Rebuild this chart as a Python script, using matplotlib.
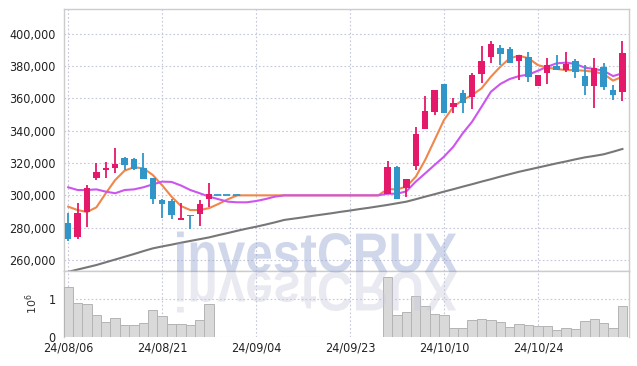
import matplotlib
matplotlib.use("Agg")
import matplotlib.pyplot as plt
import numpy as np
from matplotlib.font_manager import FontProperties
from matplotlib.textpath import TextPath
from matplotlib.patches import PathPatch
from matplotlib.transforms import Affine2D

nan = np.nan

# trading-day axis labels (every 10th session)
tick_index = [0, 10, 20, 30, 40, 50]
tick_labels = ["24/08/06", "24/08/21", "24/09/04", "24/09/23", "24/10/10", "24/10/24"]

# daily prices (nan = no candle drawn)
opens = [283100, 274400, 289500, 310900, 315900, 317100, 323100, 322500, 316900, 311000,
         297100, 296700, 285000, 287800, 288700, 297900, 300000, 300000, 300000, nan,
         nan, nan, nan, nan, nan, nan, nan, nan, nan, nan,
         nan, nan, nan, nan, 300600, 317700, 304400, 318200, 340900, 351800,
         368900, 354500, 363500, 360700, 374900, 385800, 391000, 390500, 383300, 385400,
         367600, 375500, 380000, 377500, 383100, 373800, 367800, 379600, 365200, 364100]
highs = [288900, 295100, 306200, 319800, 320400, 329300, 323900, 323100, 326000, 311000,
         297700, 297900, 295100, 287800, 296900, 307600, 300000, 300000, 300000, nan,
         nan, nan, nan, nan, nan, nan, nan, nan, nan, nan,
         nan, nan, nan, nan, 321400, 318200, 310100, 342100, 361600, 365200,
         368900, 360000, 365200, 375900, 392600, 395300, 392800, 392000, 386800, 388500,
         374500, 384800, 386800, 388500, 384100, 380400, 385000, 382100, 368500, 395200]
lows = [271600, 272800, 280600, 309500, 310500, 313600, 315700, 315500, 310100, 294700,
        285800, 285600, 284700, 279400, 281200, 293000, 300000, 300000, 300000, nan,
        nan, nan, nan, nan, nan, nan, nan, nan, nan, nan,
        nan, nan, nan, nan, 300600, 297600, 299200, 315700, 340900, 349700,
        350800, 351200, 351200, 353200, 369300, 381700, 380600, 381700, 371400, 370300,
        367600, 368900, 377500, 376500, 372400, 361800, 353800, 365200, 358800, 358500]
closes = [273000, 289300, 304700, 314400, 317100, 319400, 319000, 316100, 310100, 297800,
          294800, 287800, 286000, 287200, 294700, 300800, 300000, 300000, 300000, nan,
          nan, nan, nan, nan, nan, nan, nan, nan, nan, nan,
          nan, nan, nan, nan, 317700, 297600, 310100, 338000, 352400, 365200,
          350800, 357300, 357000, 374500, 383100, 393600, 387400, 381700, 386800, 373400,
          374500, 380600, 377500, 381300, 376100, 367800, 378600, 367200, 362100, 388300]
volumes = [1.32e6, 0.895e6, 0.87e6, 0.58e6, 0.39e6, 0.49e6, 0.32e6, 0.32e6, 0.37e6, 0.71e6,
           0.55e6, 0.34e6, 0.34e6, 0.32e6, 0.45e6, 0.87e6, 0, 0, 0, 0,
           0, 0, 0, 0, 0, 0, 0, 0, 0, 0,
           0, 0, 0, 0, 1.58e6, 0.59e6, 0.66e6, 1.09e6, 0.82e6, 0.61e6,
           0.59e6, 0.24e6, 0.24e6, 0.45e6, 0.47e6, 0.45e6, 0.39e6, 0.26e6, 0.34e6, 0.32e6,
           0.29e6, 0.29e6, 0.18e6, 0.24e6, 0.21e6, 0.42e6, 0.47e6, 0.37e6, 0.24e6, 0.82e6]

# moving averages
ma5 = [293000, 290900, 289700, 292600, 301300, 309500, 315300, 317400, 316700, 312600,
       306200, 299200, 293400, 290900, 290900, 292100, 294700, 297600, 300000, 300000,
       300000, 300000, 300000, 300000, 300000, 300000, 300000, 300000, 300000, 300000,
       300000, 300000, 300000, 300000, 303900, 303700, 305400, 311500, 321900, 334200,
       346600, 354800, 359000, 362100, 366200, 373400, 379600, 384800, 386400, 384800,
       380600, 379000, 378200, 377500, 377500, 377100, 376500, 375100, 371000, 373400]
ma20 = [305000, 303300, 303300, 303700, 302300, 301300, 303300, 303700, 305000, 306800,
        308500, 308300, 306100, 303300, 301300, 299200, 297600, 296100, 295700, 295700,
        296500, 297700, 299200, 300000, 300000, 300000, 300000, 300000, 300000, 300000,
        300000, 300000, 300000, 300000, 301000, 301000, 302500, 308500, 313600, 318800,
        323900, 330100, 338400, 345600, 354800, 364100, 368900, 372000, 373800, 374700,
        377100, 379600, 381700, 382100, 381300, 379000, 378200, 377100, 373800, 375500]
ma60 = [252700, 254100, 255500, 256900, 258600, 260300, 262000, 263700, 265500, 267200,
        268400, 269500, 270700, 271800, 272900, 274000, 275400, 276700, 278100, 279400,
        280600, 281900, 283300, 284800, 285600, 286400, 287300, 288100, 288900, 289800,
        290600, 291500, 292300, 293200, 294100, 295100, 296100, 297600, 299200, 300700,
        302300, 303800, 305400, 306900, 308500, 310000, 311600, 313100, 314600, 315900,
        317200, 318500, 319800, 321000, 322300, 323500, 324400, 325400, 327000, 328700]

up_color = "#e5196a"
down_color = "#3096c8"
grid_color = "#c4c7da"
frame_color = "#cccccc"

tick_font = FontProperties(family="DejaVu Sans", stretch="condensed", size=9)

fig = plt.figure(figsize=(6.37, 3.66), dpi=100)
ax = fig.add_axes([64 / 637, 1 - 271 / 366, 565 / 637, 262 / 366])
axv = fig.add_axes([64 / 637, 1 - 337 / 366, 565 / 637, 66 / 366], sharex=ax)

x = np.arange(len(closes))

# moving averages
ax.plot(x, ma60, color="#777777", lw=1.5, zorder=2)
ax.plot(x, ma5, color="#f0864a", lw=1.5, zorder=3)
ax.plot(x, ma20, color="#cc55ee", lw=1.5, zorder=4)

# candles
o = np.array(opens, dtype=float)
h = np.array(highs, dtype=float)
l = np.array(lows, dtype=float)
c = np.array(closes, dtype=float)
for i in range(len(x)):
    if np.isnan(o[i]):
        continue
    if h[i] == l[i]:
        # session without range: flat dashed mark
        ax.plot([i - 0.5, i + 0.5], [c[i], c[i]], color=down_color, lw=1.3,
                linestyle=(0, (4, 2)), zorder=5)
        continue
    col = up_color if c[i] > o[i] else down_color
    ax.vlines(i, l[i], h[i], color=col, lw=1.3, zorder=5)
    lo, hi = min(o[i], c[i]), max(o[i], c[i])
    ax.bar(i, max(hi - lo, 500), bottom=lo, width=0.68, color=col, zorder=6)

# volume
axv.bar(x, volumes, width=1.0, color="#d9d9d9", edgecolor="#b4b4b4", lw=0.7, zorder=3)

ax.set_xlim(-0.45, 59.7)
ax.set_ylim(253200, 415300)
axv.set_ylim(0, 1.745e6)

ax.set_yticks(np.arange(260000, 400001, 20000))
ax.set_yticklabels([f"{v:,}" for v in range(260000, 400001, 20000)], fontproperties=tick_font)
axv.set_yticks([0, 1e6])
axv.set_yticklabels(["0", "1"], fontproperties=tick_font)
axv.set_xticks(tick_index)
axv.set_xticklabels(tick_labels, fontproperties=tick_font)
ax.tick_params(axis="x", labelbottom=False, length=0)
ax.tick_params(axis="y", length=0, pad=6, colors="#222222")
axv.tick_params(axis="both", length=0, colors="#222222")
axv.tick_params(axis="x", pad=3)
axv.tick_params(axis="y", pad=6)
axv.set_ylabel(r"$10^6$", fontsize=8, color="#333333", labelpad=6)

for a in (ax, axv):
    a.grid(True, color=grid_color, linestyle=(0, (1.5, 2)), lw=0.8)
    a.set_axisbelow(True)
    for s in a.spines.values():
        s.set_color(frame_color)
        s.set_linewidth(1.0)
axv.spines["bottom"].set_visible(False)

# watermark with reflection
wm_font = FontProperties(family="Liberation Sans", weight="bold")
tp = TextPath((0, 0), "investCRUX", size=1, prop=wm_font)
ext = tp.get_extents()
cap = TextPath((0, 0), "C", size=1, prop=wm_font).get_extents().y1
sx = (280 / 637) / ext.width
sy = (39 / 366) / cap
x0 = 177 / 637
base = 1 - 272 / 366
t_main = Affine2D().translate(-ext.x0, 0).scale(sx, sy).translate(x0, base) + fig.transFigure
t_refl = Affine2D().translate(-ext.x0, 0).scale(sx, -sy).translate(x0, base) + fig.transFigure
fig.add_artist(PathPatch(tp, transform=t_main, facecolor="#8c9dcc", edgecolor="none",
                         alpha=0.4, zorder=10))
fig.add_artist(PathPatch(tp, transform=t_refl, facecolor="#c8c8dc", edgecolor="none",
                         alpha=0.4, zorder=10))

fig.savefig("out.png", dpi=100)
